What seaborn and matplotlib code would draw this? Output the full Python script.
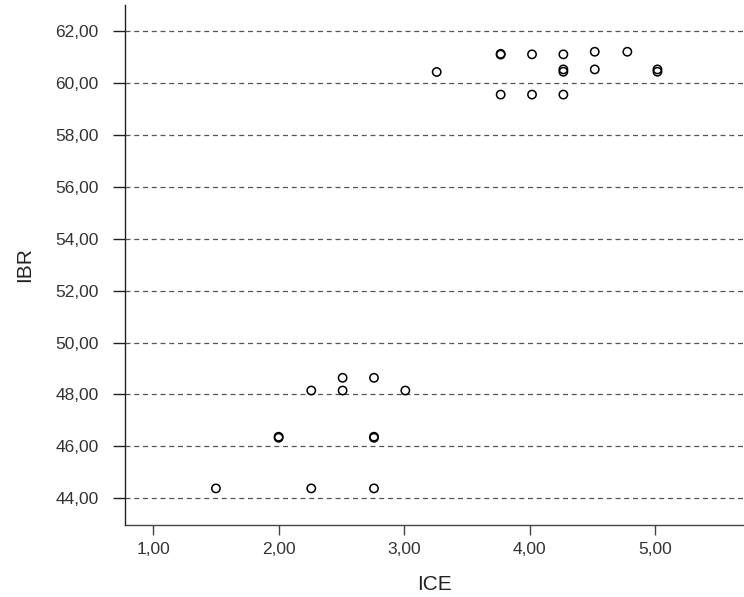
import pandas as pd
import matplotlib.pyplot as plt
import matplotlib.ticker as mticker
import seaborn as sns

# values (ICE vs IBR)
ice = [1.50, 2.26, 2.76,
       2.00, 2.00, 2.76, 2.76,
       2.26, 2.51, 3.01,
       2.51, 2.76,
       3.26,
       3.77, 3.77, 4.02, 4.27,
       4.52, 4.78,
       4.27, 4.27, 4.52, 5.02, 5.02,
       3.77, 4.02, 4.27]
ibr = [44.38, 44.38, 44.38,
       46.33, 46.37, 46.33, 46.37,
       48.15, 48.15, 48.15,
       48.64, 48.64,
       60.42,
       61.09, 61.12, 61.10, 61.10,
       61.20, 61.20,
       60.52, 60.43, 60.52, 60.52, 60.43,
       59.55, 59.55, 59.55]

x_ticks = [1, 2, 3, 4, 5]
y_ticks = [44, 46, 48, 50, 52, 54, 56, 58, 60, 62]

df = pd.DataFrame({'ICE': ice, 'IBR': ibr})

sns.set_style('white')
plt.rcParams['font.family'] = ['Liberation Sans', 'DejaVu Sans']

fig = plt.figure(figsize=(7.44, 5.97), dpi=100)
ax = fig.add_axes([0.168, 0.1206, 0.832, 0.871])

sns.scatterplot(data=df, x='ICE', y='IBR', ax=ax, marker='o', s=36,
                facecolor='none', edgecolor='black', linewidth=1.1, zorder=3)

ax.set_xlim(0.775, 5.71)
ax.set_ylim(42.97, 63.0)
ax.set_xticks(x_ticks)
ax.set_yticks(y_ticks)
fmt = mticker.FuncFormatter(lambda v, p: f'{v:.2f}'.replace('.', ','))
ax.xaxis.set_major_formatter(fmt)
ax.yaxis.set_major_formatter(fmt)

# dashed horizontal grid at each y tick
for yv in y_ticks:
    ax.axhline(yv, color='#555555', linestyle=(0, (4, 3)), linewidth=0.9, zorder=1)

for side in ['top', 'right']:
    ax.spines[side].set_visible(False)
ax.spines['left'].set_color('#222222')
ax.spines['bottom'].set_color('#444444')
ax.spines['left'].set_linewidth(1.0)
ax.spines['bottom'].set_linewidth(1.0)

ax.tick_params(axis='y', direction='out', length=9, width=1.0, color='#222222',
               labelsize=12.5, labelcolor='#333333', pad=10, left=True)
ax.tick_params(axis='x', direction='out', length=7, width=1.0, color='#444444',
               labelsize=12.5, labelcolor='#333333', pad=5, bottom=True)

ax.set_xlabel('ICE', fontsize=15, color='#222222', labelpad=13)
ax.set_ylabel('IBR', fontsize=15, color='#222222', labelpad=15)

plt.savefig('out.png', dpi=100)
